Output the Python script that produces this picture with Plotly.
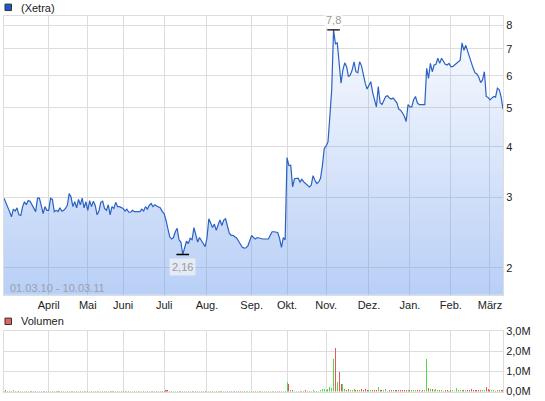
import math
import plotly.graph_objects as go

# ---------------- data ----------------
month_labels = ["April", "Mai", "Juni", "Juli", "Aug.", "Sep.", "Okt.", "Nov.", "Dez.", "Jan.", "Feb.", "März"]
month_start_idx = [24, 45, 64, 86, 109, 133, 152, 173, 196, 218, 240, 261]

price = [
    2.98, 2.91, 2.85, 2.76, 2.68, 2.80, 2.77, 2.82, 2.71, 2.70,
    2.84, 2.92, 2.87, 2.94, 2.93, 2.87, 2.81, 2.76, 2.98, 2.98,
    2.86, 2.73, 2.84, 2.78, 2.78, 2.98, 2.96, 2.76, 2.78, 2.76,
    2.82, 2.77, 2.78, 2.81, 2.86, 3.06, 3.00, 2.84, 2.92, 2.82,
    2.96, 2.87, 2.98, 2.82, 2.92, 2.78, 2.94, 2.84, 2.93, 2.86,
    2.71, 2.77, 2.91, 2.93, 2.81, 2.78, 2.87, 2.71, 2.84, 2.81,
    2.91, 2.84, 2.84, 2.82, 2.81, 2.77, 2.80, 2.75, 2.75, 2.78,
    2.76, 2.76, 2.76, 2.76, 2.80, 2.77, 2.84, 2.80, 2.86, 2.89,
    2.84, 2.87, 2.85, 2.84, 2.82, 2.76, 2.73, 2.63, 2.48, 2.39,
    2.36, 2.38, 2.46, 2.51, 2.35, 2.32, 2.16, 2.26, 2.33, 2.30,
    2.37, 2.35, 2.52, 2.42, 2.32, 2.38, 2.33, 2.30, 2.26, 2.37,
    2.65, 2.59, 2.52, 2.57, 2.48, 2.56, 2.63, 2.55, 2.63, 2.65,
    2.55, 2.44, 2.41, 2.41, 2.39, 2.37, 2.33, 2.28, 2.25, 2.24,
    2.245, 2.27, 2.35, 2.41, 2.38, 2.36, 2.38, 2.37, 2.36, 2.36,
    2.36, 2.36, 2.36, 2.41, 2.46, 2.46, 2.46, 2.45, 2.37, 2.25,
    2.38, 2.35,
    3.76, 3.59, 3.60, 3.18, 3.33, 3.33, 3.34, 3.27,
    3.32, 3.27, 3.24, 3.21, 3.18, 3.21, 3.39, 3.30, 3.24, 3.27,
    3.34, 3.59, 3.96, 4.02, 4.11, 4.75, 5.54, 7.80, 7.20, 7.24,
    6.50, 5.75, 6.20, 6.46, 6.32, 5.97, 6.03, 6.20, 6.50, 6.14,
    6.10, 6.50, 6.35, 6.03, 5.75, 5.56, 5.70, 5.80, 5.45, 5.25,
    5.02, 5.64, 5.14, 5.09, 5.23, 5.33, 5.35, 5.28, 5.25, 5.28,
    5.21, 5.14, 4.96, 4.93, 4.85, 4.76, 4.62, 5.09, 5.02, 5.02,
    5.23, 5.33, 5.14, 5.09, 5.09, 5.08, 5.09, 6.26, 5.91, 6.44,
    6.14, 6.38, 6.41, 6.63, 6.44, 6.63, 6.49, 6.41, 6.38, 6.44,
    6.32, 6.32, 6.38, 6.44, 6.51, 6.56, 7.24, 6.94, 7.14, 6.88,
    6.63, 6.47, 6.26, 6.10, 6.06, 5.95, 5.77, 5.86, 6.14, 5.33,
    5.30, 5.23, 5.28, 5.33, 5.31, 5.59, 5.54, 5.31, 4.96,
]

volume_m = [
    0.03, 0.05, 0.02, 0.01, 0.02, 0.06, 0.02, 0.01, 0.03, 0.02,
    0.01, 0.02, 0.04, 0.01, 0.02, 0.01, 0.03, 0.02, 0.01, 0.02,
    0.02, 0.01, 0.01, 0.03, 0.02, 0.01, 0.02, 0.01, 0.02, 0.03,
    0.01, 0.02, 0.02, 0.01, 0.03, 0.02, 0.01, 0.02, 0.01, 0.02,
    0.02, 0.01, 0.03, 0.01, 0.02, 0.02, 0.01, 0.02, 0.03, 0.01,
    0.02, 0.01, 0.02, 0.01, 0.01, 0.02, 0.03, 0.01, 0.02, 0.01,
    0.02, 0.01, 0.02, 0.02, 0.01, 0.03, 0.01, 0.02, 0.01, 0.02,
    0.01, 0.02, 0.01, 0.02, 0.02, 0.01, 0.02, 0.01, 0.02, 0.01,
    0.02, 0.03, 0.01, 0.02, 0.01, 0.02, 0.04, 0.05, 0.06, 0.04,
    0.02, 0.03, 0.02, 0.04, 0.02, 0.03, 0.04, 0.02, 0.03, 0.02,
    0.02, 0.01, 0.03, 0.02, 0.02, 0.01, 0.02, 0.02, 0.03, 0.02,
    0.04, 0.02, 0.02, 0.01, 0.02, 0.02, 0.03, 0.01, 0.02, 0.02,
    0.02, 0.01, 0.02, 0.01, 0.02, 0.01, 0.02, 0.02, 0.03, 0.01,
    0.02, 0.02, 0.03, 0.02, 0.01, 0.02, 0.01, 0.02, 0.01, 0.01,
    0.02, 0.01, 0.01, 0.02, 0.02, 0.01, 0.02, 0.01, 0.03, 0.04,
    0.02, 0.03,
    0.48, 0.36, 0.08, 0.06, 0.03, 0.04, 0.02, 0.03,
    0.02, 0.03, 0.05, 0.02, 0.04, 0.03, 0.06, 0.03, 0.02, 0.04,
    0.05, 0.10, 0.12, 0.08, 0.12, 0.22, 0.18,
    1.60, 2.15, 0.45, 0.95, 0.36, 0.35,
    0.10, 0.08, 0.12, 0.06, 0.08, 0.10, 0.05,
    0.08, 0.06, 0.12, 0.05, 0.10, 0.07, 0.06, 0.09, 0.05, 0.07,
    0.06, 0.20, 0.08, 0.05, 0.06, 0.10, 0.04, 0.06, 0.08, 0.05,
    0.07, 0.05, 0.06, 0.08, 0.05, 0.06, 0.09, 0.07, 0.05, 0.06,
    0.08, 0.06, 0.05, 0.07, 0.04, 0.06, 0.05,
    1.60,
    0.18, 0.12, 0.10, 0.08, 0.12, 0.06, 0.05, 0.07, 0.04, 0.06, 0.05, 0.04,
    0.06, 0.05, 0.04, 0.15, 0.06, 0.05, 0.08, 0.06, 0.05, 0.07,
    0.06, 0.12, 0.05, 0.07, 0.06, 0.05, 0.08, 0.06, 0.05, 0.20,
    0.10, 0.06, 0.08, 0.05, 0.04, 0.06, 0.07, 0.05, 0.08,
]

price_ticks = [2, 3, 4, 5, 6, 7, 8]
vol_ticks = [0, 1, 2, 3]
vol_tick_labels = ["0,0M", "1,0M", "2,0M", "3,0M"]
date_range_label = "01.03.10 - 10.03.11"
price_name = "(Xetra)"
volume_name = "Volumen"

assert len(price) == len(volume_m), (len(price), len(volume_m))

# ---------------- layout helpers ----------------
W, H = 545, 401
ML, MR, MT, MB = 3, 42, 16, 6
PW, PH = W - ML - MR, H - MT - MB


def py(p):  # pixel y -> paper y
    return (H - MB - p) / PH


def pxx(p):  # pixel x -> paper x
    return (p - ML) / PW


FONT = "Liberation Sans, Arial, sans-serif"
GRID = "#dddddd"
LINE = "#2a62c4"

n = len(price)
x = list(range(n))
ylo, yhi = 0.2345, 0.9265

vol_colors = ["#e05a5a" if i > 0 and price[i] < price[i - 1] else "#55d84a" for i in range(n)]

imax = max(range(n), key=lambda i: price[i])
imin = min(range(n), key=lambda i: price[i])


def de(v):
    return f"{v:g}".replace(".", ",")


fig = go.Figure()
fig.add_trace(go.Scatter(
    x=x, y=price, mode="lines", line=dict(color=LINE, width=1.2),
    fill="tozeroy",
    fillgradient=dict(type="vertical",
                      colorscale=[[0, "rgba(100,150,235,0.46)"], [1, "rgba(100,150,235,0.02)"]],
                      start=10 ** ylo, stop=10 ** yhi),
    xaxis="x", yaxis="y", hoverinfo="skip", showlegend=False,
))
fig.add_trace(go.Scatter(
    x=[imax, imin], y=[price[imax], price[imin]], mode="markers",
    marker=dict(symbol="line-ew", size=9, line=dict(color="black", width=1.3)),
    xaxis="x", yaxis="y", hoverinfo="skip", showlegend=False,
))
fig.add_trace(go.Bar(
    x=x, y=volume_m, marker=dict(color=vol_colors, line=dict(width=0)), width=0.55,
    xaxis="x2", yaxis="y2", hoverinfo="skip", showlegend=False,
))

axis_common = dict(showgrid=True, gridcolor=GRID, gridwidth=1, zeroline=False,
                   showline=True, linecolor=GRID, linewidth=1, mirror=True, ticks="",
                   tickfont=dict(family=FONT, size=11, color="#222222"))

fig.update_layout(
    width=W, height=H, margin=dict(l=ML, r=MR, t=MT, b=MB),
    paper_bgcolor="white", plot_bgcolor="white", bargap=0,
    font=dict(family=FONT, size=11, color="#222222"),
    xaxis=dict(domain=[0, 1], range=[0, n - 1], tickmode="array", tickvals=month_start_idx,
               ticktext=month_labels, anchor="y", **axis_common),
    yaxis=dict(domain=[py(297), 1], type="log", range=[ylo, yhi], side="right",
               tickmode="array", tickvals=price_ticks, ticktext=[str(t) for t in price_ticks],
               anchor="x", **axis_common),
    xaxis2=dict(domain=[0, 1], range=[0, n - 1], matches="x", tickmode="array",
                tickvals=month_start_idx, showticklabels=False, anchor="y2", **axis_common),
    yaxis2=dict(domain=[py(394.5), py(333.6)], range=[0, 3], side="right", tickmode="array",
                tickvals=vol_ticks, ticktext=vol_tick_labels, anchor="x2", **axis_common),
    showlegend=False,
)

annotations = [
    dict(x=imax, y=math.log10(price[imax]), xref="x", yref="y", text=de(price[imax]),
         showarrow=False, yshift=10, font=dict(family=FONT, size=11, color="#9a9a9a"),
         bgcolor="rgba(255,255,255,0.75)", borderpad=1),
    dict(x=imin, y=math.log10(price[imin]), xref="x", yref="y", text=de(price[imin]),
         showarrow=False, yshift=-12, font=dict(family=FONT, size=11, color="#9a9a9a"),
         bgcolor="rgba(245,245,245,0.7)", borderpad=2),
    dict(x=pxx(7), y=py(290), xref="paper", yref="paper", xanchor="left", yanchor="middle",
         text=date_range_label, showarrow=False, font=dict(family=FONT, size=11, color="#9aa0ab")),
    dict(x=pxx(18), y=py(7.5), xref="paper", yref="paper", xanchor="left", yanchor="middle",
         text=price_name, showarrow=False, font=dict(family=FONT, size=11, color="#222222")),
    dict(x=pxx(18), y=py(323.5), xref="paper", yref="paper", xanchor="left", yanchor="middle",
         text=volume_name, showarrow=False, font=dict(family=FONT, size=11, color="#222222")),
]
fig.update_layout(annotations=annotations)

shapes = [
    dict(type="rect", xref="paper", yref="paper", x0=pxx(4), x1=pxx(10.5), y0=py(10.5), y1=py(4),
         fillcolor="#1d5ac8", line=dict(color="#333333", width=1)),
    dict(type="rect", xref="paper", yref="paper", x0=pxx(4), x1=pxx(10.5), y0=py(327), y1=py(320.5),
         fillcolor="#e06464", line=dict(color="#333333", width=1)),
]
fig.update_layout(shapes=shapes)

fig.write_html("out.html", config={"displayModeBar": False, "staticPlot": True},
               post_script="document.body.style.margin='0';document.body.style.padding='0';")
